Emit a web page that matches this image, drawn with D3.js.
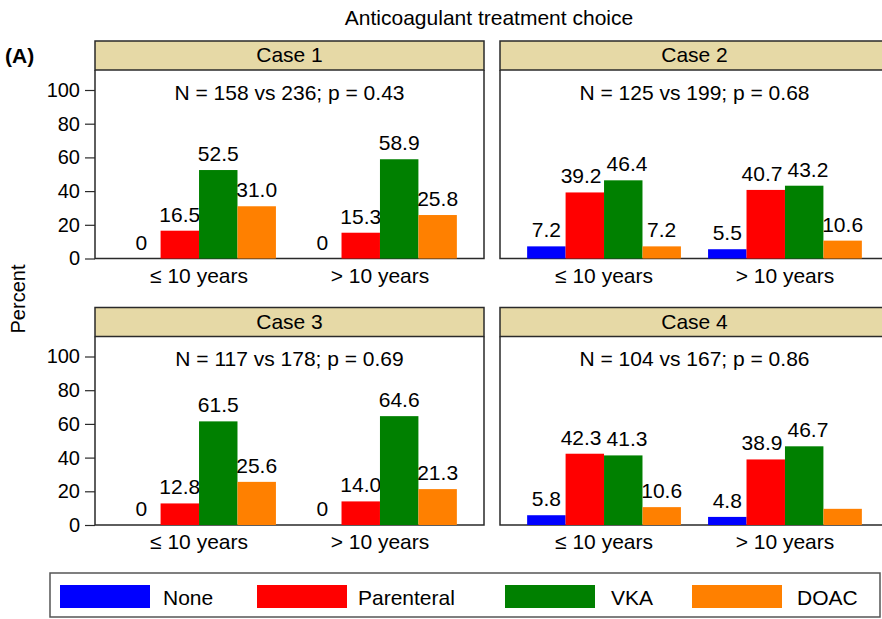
<!DOCTYPE html>
<html>
<head>
<meta charset="utf-8">
<script src="https://cdn.jsdelivr.net/npm/d3@7"></script>
<style>
  body { margin: 0; background: #fff; }
  svg { font-family: "Liberation Sans", Arial, Helvetica, sans-serif; }
</style>
</head>
<body>
<svg id="chart" width="882" height="619"></svg>
<script>
// data
var cases = ["Case 1", "Case 2", "Case 3", "Case 4"];
var stats = ["N = 158 vs 236; p = 0.43", "N = 125 vs 199; p = 0.68",
             "N = 117 vs 178; p = 0.69", "N = 104 vs 167; p = 0.86"];
var groups = ["\u2264 10 years", "> 10 years"];
var series = ["None", "Parenteral", "VKA", "DOAC"];
var colors = ["#0000ff", "#ff0000", "#008000", "#ff8000"];
var yTicks = [0, 20, 40, 60, 80, 100];

// values[case][group][series]
var values = [
  [[0, 16.5, 52.5, 31.0], [0, 15.3, 58.9, 25.8]],
  [[7.2, 39.2, 46.4, 7.2], [5.5, 40.7, 43.2, 10.6]],
  [[0, 12.8, 61.5, 25.6], [0, 14.0, 64.6, 21.3]],
  [[5.8, 42.3, 41.3, 10.6], [4.8, 38.9, 46.7, 9.6]]
];
// the last DOAC bar has no printed label
var hideLabel = [[[], []], [[], []], [[], []], [[], [3]]];

var svg = d3.select("#chart");
var lineColor = "#2a2a2a";
var fs = "21px";

var colX = [95, 500];
var panelW = 389;
var headerTop = [41, 307.5];
var headerH = 29;
var plotBottom = [258.5, 525];

svg.append("text")
  .attr("x", 489).attr("y", 25)
  .attr("text-anchor", "middle")
  .style("font-size", fs)
  .text("Anticoagulant treatment choice");

svg.append("text")
  .attr("x", 5).attr("y", 63)
  .style("font-size", fs).style("font-weight", "bold")
  .text("(A)");

svg.append("text")
  .attr("transform", "translate(25,299) rotate(-90)")
  .attr("text-anchor", "middle")
  .style("font-size", "20px")
  .text("Percent");

cases.forEach(function(name, ci) {
  var col = ci % 2, row = Math.floor(ci / 2);
  var x0 = colX[col], x1 = x0 + panelW;
  var top = headerTop[row], bottom = plotBottom[row];
  var g = svg.append("g");

  var x = d3.scaleBand().domain(groups).range([x0, x1])
    .paddingInner(0.15).paddingOuter(0.15);
  var xs = d3.scaleBand().domain(series).range([0, x.bandwidth()]);
  var y = d3.scaleLinear().domain([0, 100]).range([bottom, bottom - 168.5]);

  // frame
  g.append("path")
    .attr("d", "M" + x0 + "," + (top + headerH) + "V" + bottom + "H" + x1 + "V" + (top + headerH))
    .attr("fill", "none").attr("stroke", lineColor).attr("stroke-width", 1.5);

  // header strip
  g.append("rect")
    .attr("x", x0).attr("y", top).attr("width", panelW).attr("height", headerH)
    .attr("fill", "#e6d9a6").attr("stroke", lineColor).attr("stroke-width", 1.5);
  g.append("text")
    .attr("x", (x0 + x1) / 2).attr("y", top + 21)
    .attr("text-anchor", "middle").style("font-size", fs)
    .text(name);

  g.append("text")
    .attr("x", (x0 + x1) / 2).attr("y", y(100) + 9.5)
    .attr("text-anchor", "middle").style("font-size", fs)
    .text(stats[ci]);

  // y axis on left column only
  if (col === 0) {
    var ax = g.append("g")
      .attr("transform", "translate(" + x0 + ",0)")
      .call(d3.axisLeft(y).tickValues(yTicks).tickSize(10).tickPadding(5));
    ax.select(".domain").remove();
    ax.selectAll(".tick line").attr("stroke", lineColor).attr("stroke-width", 1.2);
    ax.selectAll(".tick text")
      .style("font-size", "20px").style("font-family", "Liberation Sans, Arial, sans-serif")
      .attr("fill", "#000");
  }

  groups.forEach(function(grp, gi) {
    var gx = x(grp);
    var labels = [];
    values[ci][gi].forEach(function(v, si) {
      var bx = gx + xs(series[si]);
      g.append("rect")
        .attr("x", bx).attr("y", y(v))
        .attr("width", xs.bandwidth()).attr("height", bottom - y(v))
        .attr("fill", colors[si]);
      if (hideLabel[ci][gi].indexOf(si) < 0) {
        var t = g.append("text")
          .attr("x", bx + xs.bandwidth() / 2).attr("y", y(v) - 9)
          .attr("text-anchor", "middle").style("font-size", fs)
          .text(v === 0 ? "0" : v.toFixed(1));
        labels.push({ node: t, cx: bx + xs.bandwidth() / 2, y: y(v) - 9, w: t.node().getComputedTextLength() });
      }
    });
    // push apart neighbouring labels that would touch
    for (var k = 0; k < labels.length - 1; k++) {
      var a = labels[k], b = labels[k + 1];
      if (Math.abs(a.y - b.y) < 16) {
        var gap = (b.cx - b.w / 2) - (a.cx + a.w / 2);
        if (gap < 5) {
          var shift = (5 - gap) / 2;
          a.cx -= shift; b.cx += shift;
          a.node.attr("x", a.cx); b.node.attr("x", b.cx);
        }
      }
    }
    g.append("text")
      .attr("x", gx + x.bandwidth() / 2).attr("y", bottom + 24)
      .attr("text-anchor", "middle").style("font-size", fs)
      .text(grp);
  });
});

// legend
var legend = svg.append("g");
legend.append("rect")
  .attr("x", 50).attr("y", 573).attr("width", 830).attr("height", 44)
  .attr("fill", "#fff").attr("stroke", "#555").attr("stroke-width", 1.5);
var swatchX = [60, 257, 505, 692];
var textX = [163, 358, 611, 797];
series.forEach(function(s, i) {
  legend.append("rect")
    .attr("x", swatchX[i]).attr("y", 585).attr("width", 90).attr("height", 23)
    .attr("fill", colors[i]);
  legend.append("text")
    .attr("x", textX[i]).attr("y", 605)
    .style("font-size", fs)
    .text(s);
});
</script>
</body>
</html>
